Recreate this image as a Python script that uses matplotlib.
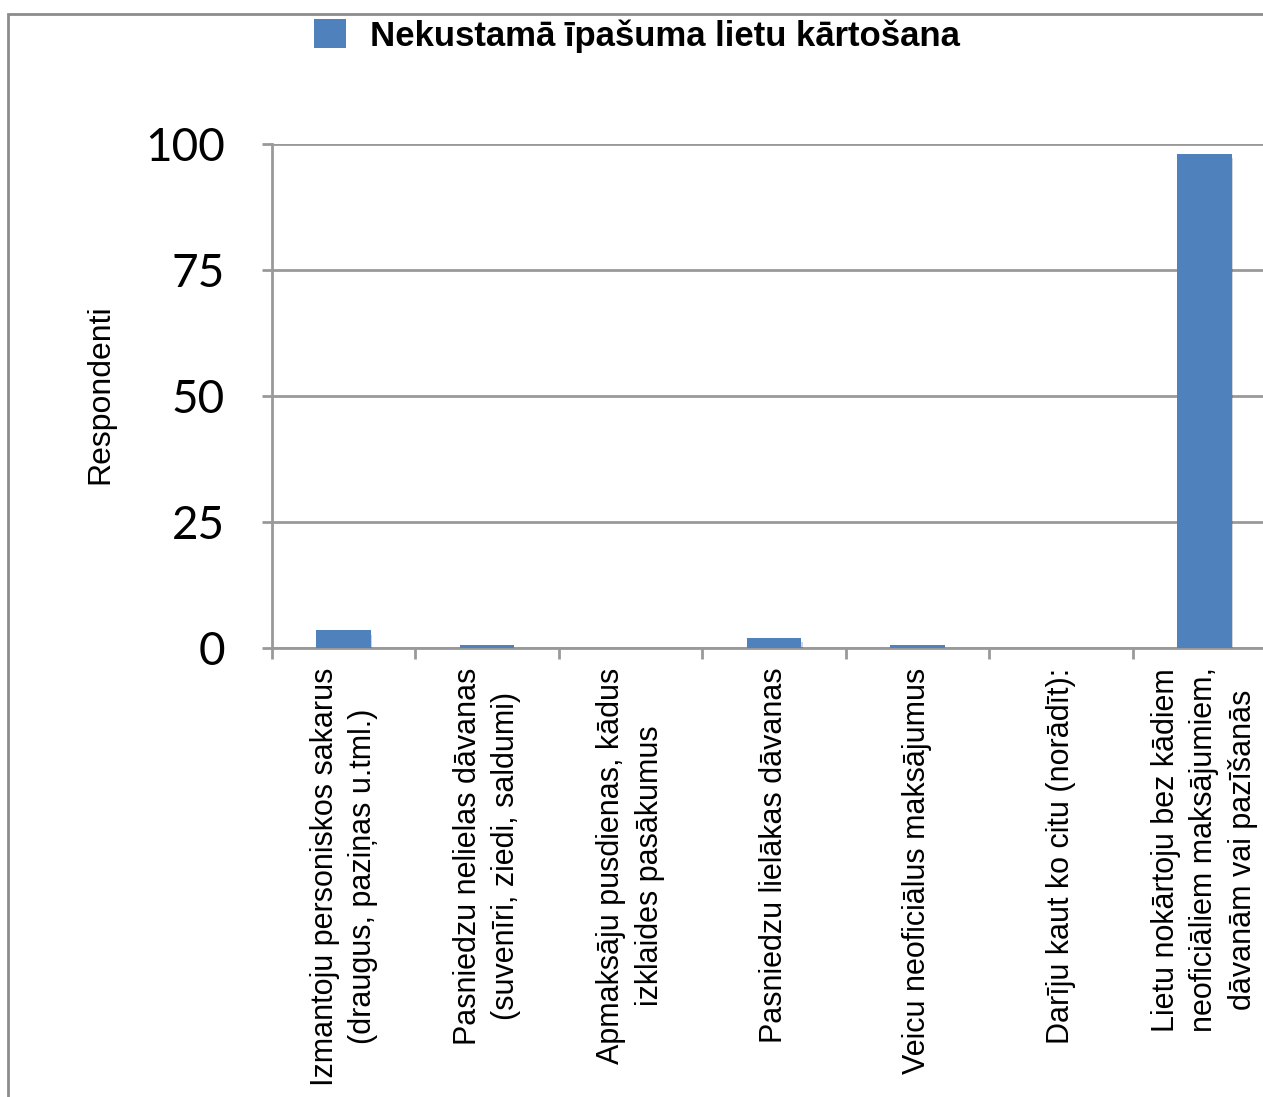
import matplotlib
matplotlib.use("Agg")
import matplotlib.pyplot as plt
import matplotlib.patheffects as pe
from matplotlib.patches import Rectangle, Patch
import numpy as np

# Data
categories = [
    "Izmantoju personiskos sakarus\n(draugus, paziņas u.tml.)",
    "Pasniedzu nelielas dāvanas\n(suvenīri, ziedi, saldumi)",
    "Apmaksāju pusdienas, kādus\nizklaides pasākumus",
    "Pasniedzu lielākas dāvanas",
    "Veicu neoficiālus maksājumus",
    "Darīju kaut ko citu (norādīt):",
    "Lietu nokārtoju bez kādiem\nneoficiāliem maksājumiem,\ndāvanām vai pazīšanās",
]
values = [3.5, 0.5, 0, 2, 0.5, 0, 98]
series_name = "Nekustamā īpašuma lietu kārtošana"
y_ticks = [0, 25, 50, 75, 100]

W, H = 1263, 1097
fig = plt.figure(figsize=(W / 100, H / 100), dpi=100)
fig.patch.set_facecolor("white")

# axes placed in pixel terms (right edge runs off the picture like the reference)
left, right, top, bottom = 272, 1276, 144, 648
ax = fig.add_axes([left / W, 1 - bottom / H, (right - left) / W, (bottom - top) / H])

bar_color = "#4F81BD"
x = np.arange(len(categories))
bars = ax.bar(x, values, width=0.38, color=bar_color, zorder=3, linewidth=0)
for b in bars:
    b.set_path_effects([pe.SimplePatchShadow(offset=(1, -3), alpha=0.2), pe.Normal()])

ax.set_xlim(-0.5, len(categories) - 0.5)
ax.set_ylim(0, 100)

grid_c = "#999999"
ax.set_yticks(y_ticks)
ax.yaxis.grid(True, color=grid_c, linewidth=2)
ax.set_axisbelow(True)
for s in ["top", "right"]:
    ax.spines[s].set_visible(False)
for s in ["left", "bottom"]:
    ax.spines[s].set_color(grid_c)
    ax.spines[s].set_linewidth(2)

ax.tick_params(axis="y", length=7, width=2, color=grid_c, pad=27, labelsize=33)
for lab in ax.get_yticklabels():
    lab.set_fontfamily(["Lato", "DejaVu Sans"])

# category boundary ticks (minor) and labels at centres
ax.set_xticks(np.arange(-0.5, len(categories), 1.0), minor=True)
ax.set_xticks(x)
ax.tick_params(axis="x", which="minor", length=8, width=2, color=grid_c)
ax.tick_params(axis="x", which="major", length=0, pad=14)
ax.set_xticklabels(categories, rotation=90, fontsize=22, ha="center", va="top",
                   multialignment="center", linespacing=1.36,
                   family=["Liberation Sans", "DejaVu Sans"])

fig.text(100 / W, 1 - 394 / H, "Respondenti", rotation=90, ha="center", va="center",
         fontsize=23, family=["Liberation Sans", "DejaVu Sans"])

# legend at the top
leg = fig.legend(handles=[Patch(facecolor=bar_color, edgecolor="none")], labels=[series_name],
                 loc="center", bbox_to_anchor=(637 / W, 1 - 36 / H), frameon=False,
                 handlelength=0.9, handleheight=0.9, handletextpad=0.7,
                 prop={"family": ["Liberation Sans Narrow", "Liberation Sans"],
                       "weight": "bold", "size": 25})

# grey frame line at top and left
fig.add_artist(Rectangle((8 / W, -0.1), 1.2, 1.1 - 14 / H, transform=fig.transFigure,
                         fill=False, edgecolor="#8c8c8c", linewidth=2, clip_on=False))

fig.savefig("out.png", dpi=100)
